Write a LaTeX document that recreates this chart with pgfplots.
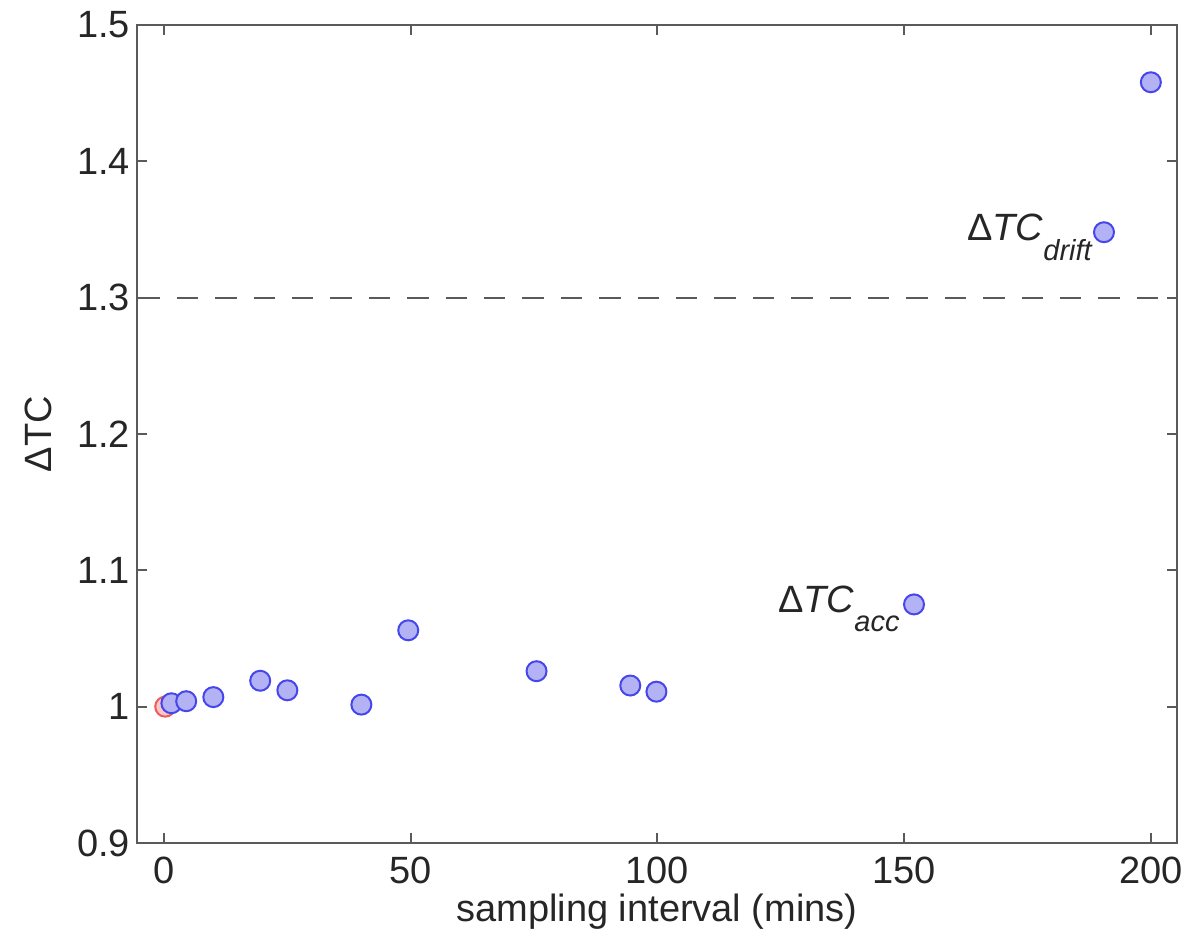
\documentclass[border=0pt]{standalone}
\usepackage{pgfplots}
\pgfplotsset{compat=1.18}
\usepackage{fontspec}
\setmainfont{Liberation Sans}
\definecolor{mkedge}{RGB}{70,70,235}
\definecolor{mkfill}{RGB}{178,178,245}
\definecolor{rededge}{RGB}{240,90,90}
\definecolor{redfill}{RGB}{250,200,200}
\definecolor{axgray}{RGB}{90,90,90}
\begin{document}
\begin{tikzpicture}
\useasboundingbox (-68.5pt,-48.5pt) rectangle (533.5pt,421.5pt);
\begin{axis}[
  scale only axis, width=520pt, height=409pt,
  at={(0,0)}, anchor=south west,
  xmin=-5.47, xmax=205.3, ymin=0.9, ymax=1.5,
  xtick={0,50,100,150,200},
  ytick={0.9,1,1.1,1.2,1.3,1.4,1.5},
  yticklabels={0.9,1,1.1,1.2,1.3,1.4,1.5},
  tick align=inside, major tick length=5pt,
  axis line style={axgray, line width=1pt},
  every tick/.style={axgray, line width=1pt},
  tick label style={font=\fontsize{19}{22}\selectfont, text=black!85},
  /pgf/number format/assume math mode=true,
  xticklabel style={yshift=-3.5pt},
  xlabel={sampling interval (mins)},
  xlabel style={font=\fontsize{19}{22}\selectfont, text=black!85, at={(axis description cs:0.5,0)}, anchor=base, yshift=-39.5pt},
  clip=false,
]
\addplot[axgray, line width=1pt, dash pattern=on 10.7pt off 8.5pt] coordinates {(-5.2,1.3) (205.3,1.3)};
\addplot[only marks, mark=*, mark size=5pt, mark options={draw=rededge, fill=redfill, line width=1pt}] coordinates {(0.25,1.0)};
\addplot[only marks, mark=*, mark size=5pt, mark options={draw=mkedge, fill=mkfill, line width=1pt}] coordinates {
  (1.5,1.0025) (4.5,1.004) (10,1.007) (19.5,1.019) (25,1.012) (40,1.0015)
  (49.5,1.056) (75.5,1.026) (94.5,1.0155) (99.8,1.011) (152,1.075)
  (190.5,1.348) (200,1.458)
};
\node[anchor=base west, inner sep=0pt, font=\fontsize{19}{22}\selectfont, text=black!85] at (axis cs:162.7,1.3422)
  {Δ\textit{TC}\raisebox{-10pt}{\fontsize{14.5}{15}\selectfont\itshape drift}};
\node[anchor=base west, inner sep=0pt, font=\fontsize{19}{22}\selectfont, text=black!85] at (axis cs:124.4,1.0692)
  {Δ\textit{TC}\raisebox{-9.5pt}{\fontsize{14.5}{15}\selectfont\itshape acc}};
\end{axis}
\node[rotate=90, anchor=base, font=\fontsize{19}{22}\selectfont, text=black!85] at (-42.5pt,204.5pt) {ΔTC};
\end{tikzpicture}
\end{document}
